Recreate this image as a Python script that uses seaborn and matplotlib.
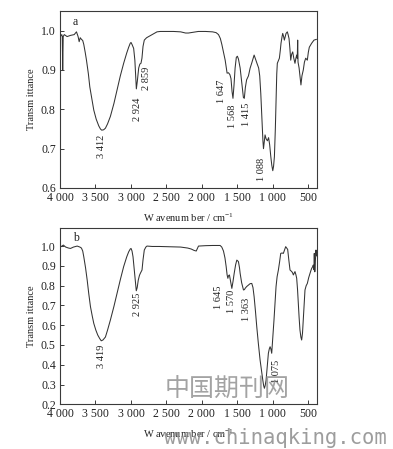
import matplotlib

matplotlib.use("Agg")
import matplotlib.pyplot as plt
import pandas as pd
import seaborn as sns

# FT-IR spectrum, sample a
wn_a = [3995, 3975, 3968, 3962, 3955, 3940, 3900, 3852, 3800, 3768, 3745, 3730, 3715,
        3698, 3680, 3665, 3645, 3627, 3600, 3580, 3550, 3524, 3490, 3454, 3430, 3412,
        3385, 3360, 3330, 3290, 3240, 3196, 3150, 3103, 3060, 3032, 3010, 2999, 2985,
        2962, 2945, 2935, 2924, 2910, 2891, 2875, 2859, 2845, 2830, 2812, 2780, 2751,
        2700, 2633, 2586, 2500, 2400, 2300, 2230, 2190, 2120, 2050, 1950, 1850, 1800,
        1766, 1740, 1719, 1695, 1672, 1655, 1645, 1625, 1605, 1590, 1575, 1562, 1548,
        1532, 1515, 1500, 1485, 1461, 1437, 1415, 1402, 1388, 1370, 1344, 1320, 1297,
        1264, 1240, 1220, 1200, 1185, 1170, 1156, 1140, 1132, 1122, 1110, 1095, 1077,
        1060, 1045, 1029, 1015, 1001, 990, 978, 965, 955, 945, 937, 920, 908, 895, 885,
        870, 861, 848, 838, 825, 814, 796, 785, 772, 760, 748, 735, 720, 705, 688, 675,
        664, 656, 650, 645, 630, 615, 604, 590, 571, 555, 537, 514, 500, 486, 453, 420,
        385]
tr_a = [0.985, 0.99, 0.985, 0.90, 0.985, 0.99, 0.985, 0.988, 0.99, 0.997, 0.985, 0.972,
        0.982, 0.978, 0.975, 0.965, 0.945, 0.925, 0.89, 0.857, 0.825, 0.798, 0.775, 0.758,
        0.75, 0.747, 0.748, 0.752, 0.763, 0.782, 0.815, 0.849, 0.885, 0.917, 0.943, 0.958,
        0.968, 0.97, 0.965, 0.955, 0.925, 0.89, 0.852, 0.872, 0.905, 0.915, 0.917, 0.93,
        0.96, 0.976, 0.982, 0.985, 0.99, 0.997, 0.998, 0.998, 0.998, 0.997, 0.994, 0.994,
        0.996, 0.998, 0.998, 0.997, 0.995, 0.99, 0.98, 0.965, 0.945, 0.925, 0.905, 0.892,
        0.893, 0.888, 0.878, 0.845, 0.828, 0.86, 0.905, 0.932, 0.935, 0.928, 0.905, 0.865,
        0.83, 0.828, 0.855, 0.875, 0.885, 0.905, 0.918, 0.938, 0.925, 0.915, 0.905, 0.885,
        0.84, 0.781, 0.72, 0.70, 0.715, 0.735, 0.725, 0.72, 0.728, 0.71, 0.68, 0.658,
        0.644, 0.655, 0.68, 0.75, 0.824, 0.89, 0.917, 0.925, 0.93, 0.95, 0.968, 0.985,
        0.993, 0.985, 0.976, 0.985, 0.993, 0.997, 0.99, 0.98, 0.955, 0.925, 0.94, 0.946,
        0.93, 0.917, 0.93, 0.938, 0.93, 0.976, 0.92, 0.905, 0.88, 0.862, 0.885, 0.90,
        0.92, 0.93, 0.925, 0.945, 0.958, 0.968, 0.976, 0.978]

# FT-IR spectrum, sample b
wn_b = [3995, 3975, 3953, 3920, 3880, 3852, 3810, 3758, 3720, 3698, 3680, 3665, 3640,
        3617, 3595, 3571, 3545, 3524, 3495, 3468, 3440, 3419, 3395, 3360, 3330, 3290,
        3240, 3196, 3150, 3103, 3060, 3032, 3010, 2999, 2985, 2971, 2949, 2935, 2925,
        2912, 2897, 2880, 2868, 2844, 2830, 2812, 2790, 2774, 2700, 2600, 2500, 2400,
        2300, 2200, 2150, 2110, 2080, 2060, 2048, 1950, 1850, 1780, 1743, 1720, 1696,
        1675, 1658, 1645, 1634, 1625, 1612, 1595, 1578, 1562, 1545, 1525, 1508, 1495,
        1485, 1470, 1461, 1440, 1414, 1400, 1391, 1370, 1344, 1320, 1297, 1280, 1264,
        1245, 1227, 1205, 1180, 1160, 1142, 1130, 1119, 1108, 1096, 1080, 1063, 1050,
        1039, 1028, 1016, 1000, 984, 970, 955, 940, 922, 905, 889, 870, 852, 835, 819,
        805, 791, 775, 758, 745, 734, 722, 711, 700, 688, 675, 664, 652, 641, 630, 618,
        605, 594, 582, 571, 560, 547, 530, 514, 495, 477, 465, 453, 440, 430, 420, 416,
        411, 406, 400, 392, 385]
tr_b = [0.995, 1.0, 1.005, 0.995, 0.99, 0.988, 0.995, 1.0, 0.995, 0.99, 0.975, 0.946,
        0.89, 0.828, 0.76, 0.694, 0.645, 0.609, 0.575, 0.55, 0.532, 0.521, 0.525, 0.54,
        0.575, 0.626, 0.695, 0.761, 0.83, 0.896, 0.945, 0.971, 0.985, 0.988, 0.975, 0.946,
        0.862, 0.81, 0.774, 0.79, 0.828, 0.852, 0.862, 0.879, 0.93, 0.98, 0.995, 1.0,
        0.998, 0.998, 0.997, 0.996, 0.995, 0.99, 0.985, 0.978, 0.975, 0.99, 1.0, 1.002,
        1.003, 1.003, 1.003, 0.995, 0.975, 0.94, 0.896, 0.855, 0.837, 0.85, 0.854, 0.82,
        0.786, 0.82, 0.862, 0.905, 0.929, 0.925, 0.921, 0.89, 0.862, 0.815, 0.778, 0.78,
        0.786, 0.795, 0.803, 0.81, 0.811, 0.79, 0.744, 0.67, 0.593, 0.51, 0.424, 0.37,
        0.323, 0.295, 0.281, 0.295, 0.32, 0.39, 0.458, 0.48, 0.491, 0.48, 0.458, 0.54,
        0.626, 0.71, 0.795, 0.845, 0.879, 0.92, 0.963, 0.965, 0.963, 0.98, 0.997, 0.99,
        0.983, 0.93, 0.879, 0.875, 0.871, 0.865, 0.854, 0.862, 0.871, 0.855, 0.837, 0.78,
        0.71, 0.64, 0.576, 0.54, 0.525, 0.56, 0.626, 0.70, 0.778, 0.80, 0.811, 0.84,
        0.862, 0.875, 0.887, 0.895, 0.904, 0.88, 0.963, 0.87, 0.871, 0.93, 0.98, 0.95]

# peak labels and where their text sits (x, top of text)
peaks_a = ["3 412", "2 924", "2 859", "1 647", "1 568", "1 415", "1 088"]
peak_pos_a = [(3416, 0.735), (2914, 0.831), (2783, 0.908), (1719, 0.875),
              (1574, 0.811), (1367, 0.816), (1156, 0.676)]
peaks_b = ["3 419", "2 925", "1 645", "1 570", "1 363", "1 075"]
peak_pos_b = [(3416, 0.50), (2914, 0.763), (1766, 0.803), (1588, 0.778),
              (1377, 0.737), (955, 0.424)]

x_ticks = [4000, 3500, 3000, 2500, 2000, 1500, 1000, 500]
x_tick_labels = ["4 000", "3 500", "3 000", "2 500", "2 000", "1 500", "1 000", "500"]
y_ticks_a = [0.6, 0.7, 0.8, 0.9, 1.0]
y_ticks_b = [0.2, 0.3, 0.4, 0.5, 0.6, 0.7, 0.8, 0.9, 1.0]

sns.set_style("ticks")
plt.rcParams["font.family"] = ["Liberation Serif", "DejaVu Serif"]
plt.rcParams["mathtext.fontset"] = "custom"
plt.rcParams["mathtext.rm"] = "Liberation Serif"
plt.rcParams["mathtext.it"] = "Liberation Serif"

LINE = "#333333"
SPINE = "#3a3a3a"

fig = plt.figure(figsize=(3.93, 4.49), dpi=100)
ax_a = fig.add_axes([0.1527, 0.5813, 0.6535, 0.3942])
ax_b = fig.add_axes([0.1527, 0.0996, 0.6535, 0.3920])


def draw_panel(ax, wn, tr, ylim, yticks, letter, letter_y, labels, positions):
    df = pd.DataFrame({"wn": wn, "tr": tr})
    sns.lineplot(data=df, x="wn", y="tr", ax=ax, color=LINE, linewidth=0.75,
                 estimator=None, sort=False)
    ax.set_xlim(4000, 380)
    ax.set_ylim(*ylim)
    ax.set_xticks(x_ticks)
    ax.set_xticklabels(x_tick_labels)
    ax.set_yticks(yticks)
    ax.set_yticklabels([f"{v:.1f}" for v in yticks])
    ax.tick_params(direction="in", length=3, width=0.7, colors=SPINE,
                   labelsize=8.5, labelcolor="#222222", pad=3)
    for s in ax.spines.values():
        s.set_linewidth(0.8)
        s.set_color(SPINE)
    ax.set_xlabel("W avenum ber / cm$^{-1}$", fontsize=7.5, color="#222222", labelpad=5)
    ax.set_ylabel("Transm ittance", fontsize=7.5, color="#222222")
    ax.yaxis.set_label_coords(-0.095, 0.5)
    ax.text(3782, letter_y, letter, fontsize=8.5, ha="center", va="center", color="#222222")
    for lab, (x, y) in zip(labels, positions):
        ax.text(x, y, lab, rotation=90, fontsize=7.5, ha="center", va="top", color="#222222")


draw_panel(ax_a, wn_a, tr_a, (0.6, 1.05), y_ticks_a, "a", 1.022, peaks_a, peak_pos_a)
draw_panel(ax_b, wn_b, tr_b, (0.2, 1.09), y_ticks_b, "b", 1.04, peaks_b, peak_pos_b)

# site watermark
fig.text(0.578, 0.131, "中国期刊网", fontsize=18, color="#8c8c8c", alpha=0.8,
         ha="center", va="center", family=["Noto Sans CJK SC", "DejaVu Sans"])
fig.text(0.700, 0.025, "www.chinaqking.com", fontsize=14.8, color="#8c8c8c", alpha=0.85,
         ha="center", va="center", family="DejaVu Sans Mono")

fig.savefig("out.png", dpi=100)
